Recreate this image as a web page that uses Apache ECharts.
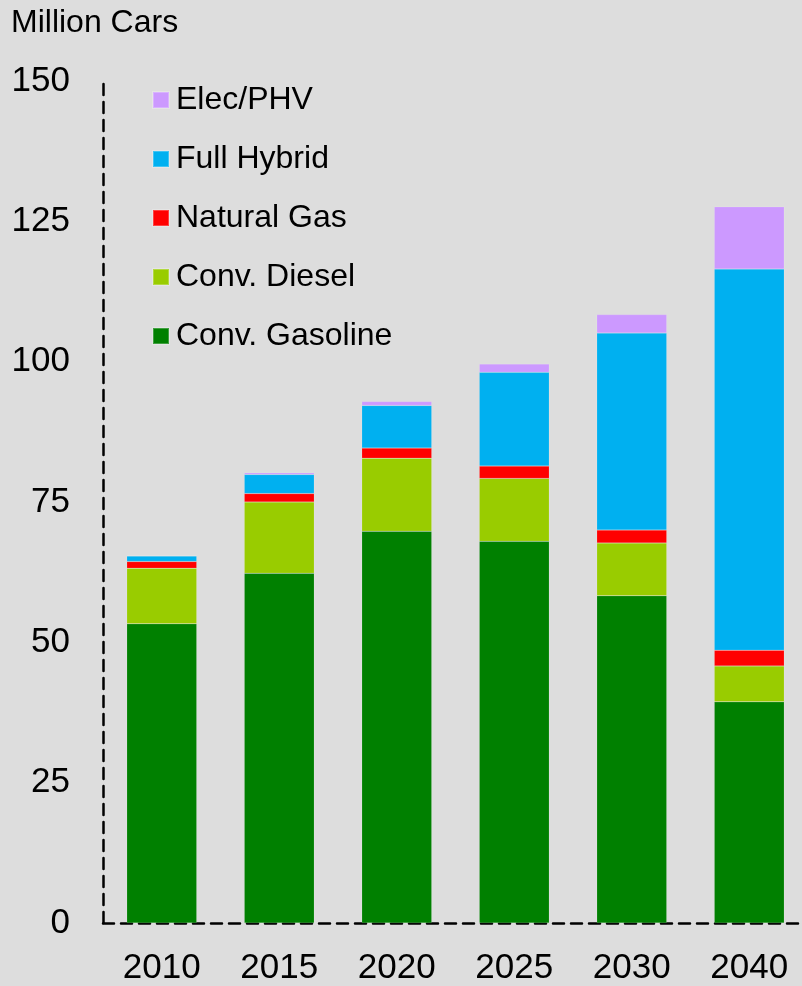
<!DOCTYPE html>
<html>
<head>
<meta charset="utf-8">
<script src="https://cdn.jsdelivr.net/npm/echarts@6/dist/echarts.min.js"></script>
<style>
  html, body { margin: 0; padding: 0; background: #dddddd; overflow: hidden; }
  #chart { width: 812px; height: 986px; }
</style>
</head>
<body>
<div id="chart"></div>
<script>
// 数据
var years = ['2010', '2015', '2020', '2025', '2030', '2040'];
var gasoline = [53.3, 62.3, 69.8, 68.0, 58.3, 39.4];
var diesel = [9.9, 12.7, 13.0, 11.2, 9.4, 6.4];
var naturalGas = [1.2, 1.5, 1.8, 2.2, 2.3, 2.8];
var fullHybrid = [1.0, 3.4, 7.6, 16.7, 35.1, 67.9];
var elecPhv = [0, 0.3, 0.7, 1.5, 3.3, 11.1];
var yTicks = [0, 25, 50, 75, 100, 125, 150];

var font = 'Liberation Sans, Arial, sans-serif';
var myChart = echarts.init(document.getElementById('chart'));

function bar(name, data, color) {
    return {
        name: name,
        type: 'bar',
        stack: 'cars',
        data: data,
        barWidth: 70,
        itemStyle: { color: color, borderColor: 'rgba(255,255,255,0.25)', borderWidth: 0.5 }
    };
}

var option = {
    backgroundColor: '#dddddd',
    animation: false,
    title: {
        text: 'Million Cars',
        left: 6,
        top: 2,
        textStyle: { fontFamily: font, fontSize: 32, fontWeight: 'normal', color: '#000' }
    },
    legend: {
        orient: 'vertical',
        left: 152,
        top: 84,
        padding: 0,
        itemWidth: 16,
        itemHeight: 16,
        itemGap: 27,
        icon: 'rect',
        data: ['Elec/PHV', 'Full Hybrid', 'Natural Gas', 'Conv. Diesel', 'Conv. Gasoline'],
        textStyle: { fontFamily: font, fontSize: 32, lineHeight: 31, color: '#000', padding: [0, 0, 0, 2] }
    },
    grid: { left: 103, top: 81, width: 705, bottom: 62, containLabel: false },
    xAxis: {
        type: 'category',
        data: years,
        axisLine: { lineStyle: { color: '#000', width: 2.5, type: [11, 7] } },
        axisTick: { show: false },
        axisLabel: { fontFamily: font, fontSize: 35, color: '#000', margin: 28 }
    },
    yAxis: {
        type: 'value',
        min: yTicks[0],
        max: yTicks[yTicks.length - 1],
        interval: 25,
        axisLine: { show: true, lineStyle: { color: '#000', width: 2.5, type: [11, 7] } },
        axisTick: { show: false },
        splitLine: { show: false },
        axisLabel: { fontFamily: font, fontSize: 35, color: '#000', margin: 33 }
    },
    series: [
        bar('Conv. Gasoline', gasoline, '#008000'),
        bar('Conv. Diesel', diesel, '#99cc00'),
        bar('Natural Gas', naturalGas, '#ff0000'),
        bar('Full Hybrid', fullHybrid, '#00b0f0'),
        bar('Elec/PHV', elecPhv, '#cc99ff')
    ]
};

myChart.setOption(option);
</script>
</body>
</html>
